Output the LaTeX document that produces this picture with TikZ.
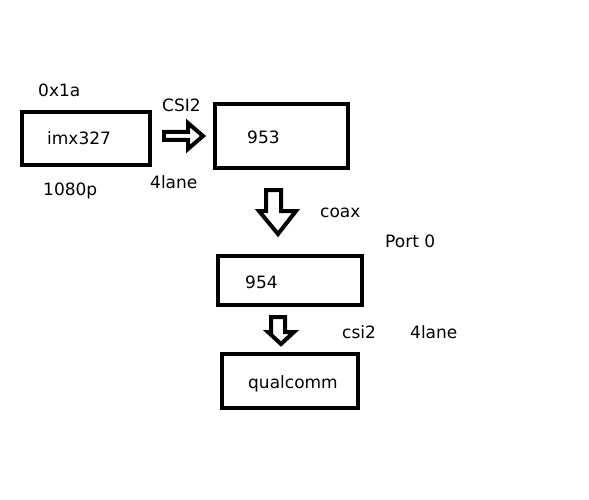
\documentclass[tikz,border=0pt]{standalone}
\usepackage{fontspec}
\setmainfont{DejaVu Sans}
\tikzset{
  blockbox/.style={draw, line width=4pt, rectangle, inner sep=0pt},
  lbl/.style={anchor=base west, inner sep=0pt, font=\fontsize{17}{20}\selectfont},
  blockarrow/.style={draw, line width=4pt, line join=miter}
}
\begin{document}
\begin{tikzpicture}[x=1pt, y=-1pt]
	\useasboundingbox (0,0) rectangle (589,500);

	% Kasten
	\node[blockbox, minimum width=128pt, minimum height=53pt] (imx) at (86,138.5) {};
	\node[blockbox, minimum width=133pt, minimum height=64pt] (ser) at (281.5,136) {};
	\node[blockbox, minimum width=144pt, minimum height=49pt] (des) at (290,280.5) {};
	\node[blockbox, minimum width=136pt, minimum height=54pt] (qc) at (290,381) {};

	% Beschriftung in den Kasten
	\node[lbl] (imxtext) at (47,145) {imx327};
	\node[lbl] (sertext) at (247,143) {953};
	\node[lbl] (destext) at (245,288) {954};
	\node[lbl] (qctext) at (248,388) {qualcomm};

	% Beschriftung aussen
	\node[lbl] (addr) at (38,97) {0x1a};
	\node[lbl] (res) at (43,195) {1080p};
	\node[lbl] (csi) at (162,112) {CSI2};
	\node[lbl] (lanes) at (150,188) {4lane};
	\node[lbl] (coax) at (320,217) {coax};
	\node[lbl] (port) at (385,247) {Port 0};
	\node[lbl] (csilow) at (342,338) {csi2};
	\node[lbl] (laneslow) at (410,338) {4lane};

	% Pfeile
	\draw[blockarrow] (164,132) -- (188,132) -- (188,123) -- (203,136)
		-- (188,149) -- (188,140) -- (164,140) -- cycle;
	\draw[blockarrow] (266,190) -- (281,190) -- (281,211) -- (296,211)
		-- (278,234) -- (259,211) -- (266,211) -- cycle;
	\draw[blockarrow] (271,317) -- (285,317) -- (285,332) -- (294,332)
		-- (281,344) -- (268,332) -- (271,332) -- cycle;
\end{tikzpicture}
\end{document}
